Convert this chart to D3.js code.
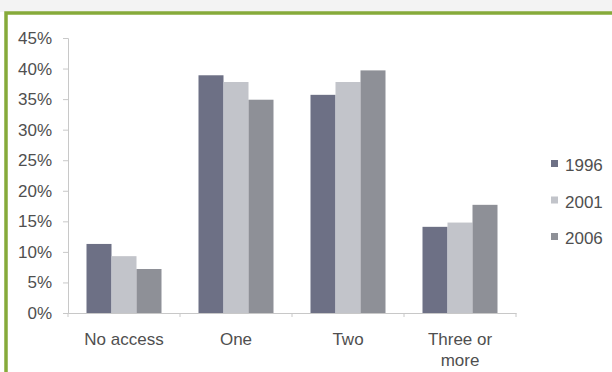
<!DOCTYPE html>
<html>
<head>
<meta charset="utf-8">
<script src="https://cdn.jsdelivr.net/npm/d3@7"></script>
<style>
  html, body { margin: 0; padding: 0; background: #fff; }
  svg { display: block; font-family: "Liberation Sans", Arial, sans-serif; }
</style>
</head>
<body>
<svg id="chart" width="612" height="372"></svg>
<script>
// Households by number of vehicles, share per census year
const categories = [["No access"], ["One"], ["Two"], ["Three or", "more"]];
const years = ["1996", "2001", "2006"];
const values1996 = [11.3, 38.9, 35.7, 14.1];
const values2001 = [9.3, 37.8, 37.8, 14.8];
const values2006 = [7.2, 34.9, 39.7, 17.7];
const yTicks = [0, 5, 10, 15, 20, 25, 30, 35, 40, 45];
const colors = ["#6d7085", "#c2c4ca", "#8e9097"];

const series = [values1996, values2001, values2006];
const svg = d3.select("#chart");
const fontSize = 17;
const textColor = "#4f4f4f";

// page strip and green frame
svg.append("rect").attr("x", 0).attr("y", 0).attr("width", 612).attr("height", 12).attr("fill", "#f3f3f3");
svg.append("rect").attr("x", 6).attr("y", 13).attr("width", 620).attr("height", 380)
  .attr("fill", "#fff").attr("stroke", "#86aa3a").attr("stroke-width", 3.5);

const plotLeft = 68, plotRight = 516, plotTop = 38, plotBottom = 313;

const x0 = d3.scaleBand().domain(d3.range(categories.length)).range([plotLeft, plotRight]).paddingInner(0).paddingOuter(0);
const x1 = d3.scaleBand().domain(years).range([0, x0.bandwidth()]).paddingInner(0).paddingOuter(0.74);
const y = d3.scaleLinear().domain([0, 45]).range([plotBottom, plotTop]);

// bars
const groups = svg.append("g").selectAll("g").data(categories).join("g")
  .attr("transform", (d, i) => `translate(${x0(i)},0)`);
groups.each(function (c, i) {
  d3.select(this).selectAll("rect").data(years).join("rect")
    .attr("x", yr => x1(yr))
    .attr("width", x1.bandwidth())
    .attr("y", (yr, k) => y(series[k][i]))
    .attr("height", (yr, k) => plotBottom - y(series[k][i]))
    .attr("fill", (yr, k) => colors[k]);
});

// y axis
const yAxis = svg.append("g").attr("transform", `translate(${plotLeft},0)`)
  .call(d3.axisLeft(y).tickValues(yTicks).tickFormat(d => d + "%").tickSize(5).tickPadding(11));
yAxis.select(".domain").attr("stroke", "#c8c8c8");
yAxis.selectAll(".tick line").attr("stroke", "#c8c8c8");
yAxis.selectAll("text").attr("font-size", fontSize).attr("fill", textColor).attr("font-family", "Liberation Sans, Arial, sans-serif");

// x axis
const xAxis = svg.append("g").attr("transform", `translate(0,${plotBottom})`)
  .call(d3.axisBottom(x0).tickValues([]).tickSizeOuter(0));
xAxis.select(".domain").attr("stroke", "#c8c8c8");
xAxis.selectAll(".bound").data(d3.range(categories.length + 1)).join("line")
  .attr("x1", i => plotLeft + i * x0.step()).attr("x2", i => plotLeft + i * x0.step())
  .attr("y1", 0).attr("y2", 4).attr("stroke", "#c8c8c8");

const labels = svg.append("g").selectAll("text").data(categories).join("text")
  .attr("x", (d, i) => x0(i) + x0.bandwidth() / 2)
  .attr("y", 345)
  .attr("text-anchor", "middle")
  .attr("font-size", fontSize)
  .attr("fill", textColor);
labels.selectAll("tspan").data(d => d).join("tspan")
  .attr("x", function () { return d3.select(this.parentNode).attr("x"); })
  .attr("dy", (d, j) => j === 0 ? 0 : 21)
  .text(d => d);

// legend
const legend = svg.append("g").selectAll("g").data(years).join("g")
  .attr("transform", (d, i) => `translate(551,${165 + i * 36.5})`);
legend.append("rect").attr("x", 0).attr("y", -5).attr("width", 7).attr("height", 7)
  .attr("fill", (d, i) => colors[i]);
legend.append("text").attr("x", 14).attr("y", 0).attr("dy", "0.36em")
  .attr("font-size", fontSize).attr("fill", textColor).text(d => d);
</script>
</body>
</html>
